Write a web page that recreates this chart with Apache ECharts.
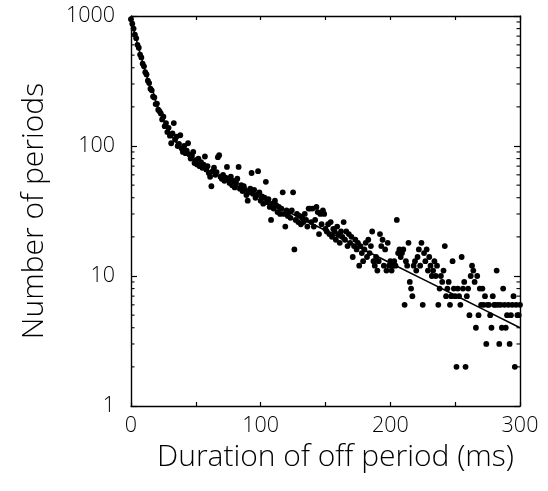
<!DOCTYPE html>
<html>
<head>
<meta charset="utf-8">
<script src="https://cdn.jsdelivr.net/npm/echarts@6/dist/echarts.min.js"></script>
<style>
html,body{margin:0;padding:0;background:#fff;}
#chart{width:548px;height:491px;}
</style>
</head>
<body>
<div id="chart"></div>
<script>
// Counts per 1-ms bin, starting at 0 ms
const binStartMs = 0;
const counts = [
945,870,800,720,675,600,570,505,480,430,
410,370,355,318,305,276,268,240,236,210,
212,190,185,178,160,168,142,150,128,138,
120,105,125,150,112,118,100,104,121,96,
90,100,88,92,105,86,80,84,90,74,
78,72,80,70,75,68,72,83,66,70,
62,58,49,64,68,60,63,82,85,58,
56,60,54,57,69,55,52,58,50,54,
48,52,56,69,47,50,45,49,46,42,
38,44,47,62,43,46,40,42,64,44,
38,41,36,40,53,37,39,34,27,36,
33,38,35,31,34,30,33,44,30,24,
32,29,31,28,32,44,16,27,30,26,
29,25,28,26,30,27,24,33,33,26,
33,24,27,34,31,21,30,25,32,30,
23,22,25,21,26,20,23,22,19,24,
21,18,22,20,26,19,22,17,21,18,
20,14,17,19,16,18,12,17,15,13,
16,18,14,19,15,17,22,13,12,14,
11,13,21,17,19,12,16,11,18,12,
13,11,12,13,12,27,15,16,14,15,
16,6,13,12,18,9,8,7,12,13,
11,14,16,12,18,6,15,13,16,11,
14,12,10,11,13,10,12,6,8,10,
9,11,17,7,8,9,6,7,13,8,
7,2,8,7,6,14,8,9,2,7,
8,5,10,12,11,9,4,10,5,8,
6,8,6,7,3,6,6,5,4,7,
6,6,11,6,3,6,4,8,6,4,
5,6,3,5,6,7,2,6,5,5,
6
];
// Fitted curve, sampled (ms, count)
const fitX = [0,1,2,3,4,5,7,10,12,15,17,20,22,25,27,30,35,40,45,50,55,60,70,80,100,150,200,250,300];
const fitY = [950,868,794,727,666,611,517,405,349,281,263,205,193,157,150,127,106,93,83,75.6,70,64.9,57,50.4,39.9,22.4,12.6,7.1,4.0];
const yMinorTicks = [2,3,4,5,6,7,8,9,20,30,40,50,60,70,80,90,200,300,400,500,600,700,800,900];
const xTitle = 'Duration of off period (ms)';
const yTitle = 'Number of periods';

const FONT = "'Open Sans', 'DejaVu Sans'";
const FW = 300;
const scatterData = counts.map((c, i) => [binStartMs + i, c]);
const fitData = fitX.map((x, i) => [x, fitY[i]]);

const axisLineStyle = {show:true, onZero:false, lineStyle:{color:'#000', width:1.4}};
const chart = echarts.init(document.getElementById('chart'));
chart.setOption({
  animation:false,
  backgroundColor:'#fff',
  grid:{left:131, right:28, top:16, bottom:85},
  xAxis:[{
    type:'value', min:0, max:300, interval:50, position:'bottom',
    axisLine:axisLineStyle,
    axisTick:{show:true, inside:true, length:4, lineStyle:{color:'#000', width:1.2}},
    axisLabel:{formatter:v => (v % 100 === 0 ? String(v) : ''), color:'#000', fontSize:21.5, fontFamily:FONT, fontWeight:FW, margin:9},
    splitLine:{show:false},
    name:xTitle, nameLocation:'middle', nameGap:36,
    nameTextStyle:{color:'#000', fontSize:30, fontFamily:FONT, fontWeight:FW, padding:[0,0,0,20]}
  },{
    type:'value', min:0, max:300, interval:50, position:'top',
    axisLine:axisLineStyle,
    axisTick:{show:true, inside:true, length:4, lineStyle:{color:'#000', width:1.2}},
    axisLabel:{show:false}, splitLine:{show:false}
  }],
  yAxis:[{
    type:'log', logBase:10, min:1, max:1000, position:'left',
    axisLine:axisLineStyle,
    axisTick:{show:true, inside:true, length:6, lineStyle:{color:'#000', width:1.2}},
    axisLabel:{formatter:v => String(Math.round(v)), color:'#000', fontSize:21.5, fontFamily:FONT, fontWeight:FW, margin:16},
    splitLine:{show:false}, minorTick:{show:false},
    name:yTitle, nameLocation:'middle', nameGap:82, nameRotate:90,
    nameTextStyle:{color:'#000', fontSize:30, fontFamily:FONT, fontWeight:FW}
  },{
    type:'log', logBase:10, min:1, max:1000, position:'right',
    axisLine:axisLineStyle,
    axisTick:{show:true, inside:true, length:6, lineStyle:{color:'#000', width:1.2}},
    axisLabel:{show:false}, splitLine:{show:false}
  }],
  series:[{
    type:'scatter', xAxisIndex:0, yAxisIndex:0,
    data:scatterData, symbol:'circle', symbolSize:5.8,
    itemStyle:{color:'#000', opacity:1}, z:3
  },{
    type:'line', xAxisIndex:0, yAxisIndex:0,
    data:fitData, showSymbol:false, smooth:0.3,
    lineStyle:{color:'#000', width:1.6}, z:4
  },{
    type:'custom', xAxisIndex:0, yAxisIndex:0, silent:true, clip:false,
    data:yMinorTicks.map(v => [0, v]),
    encode:{x:0, y:1},
    renderItem:function(params, api){
      const v = api.value(1);
      const l = api.coord([0, v]);
      const r = api.coord([300, v]);
      const st = {stroke:'#000', lineWidth:1.1};
      return {type:'group', children:[
        {type:'line', shape:{x1:l[0], y1:l[1], x2:l[0]+3.5, y2:l[1]}, style:st},
        {type:'line', shape:{x1:r[0]-3.5, y1:r[1], x2:r[0], y2:r[1]}, style:st}
      ]};
    }, z:5
  }]
});
</script>
</body>
</html>
